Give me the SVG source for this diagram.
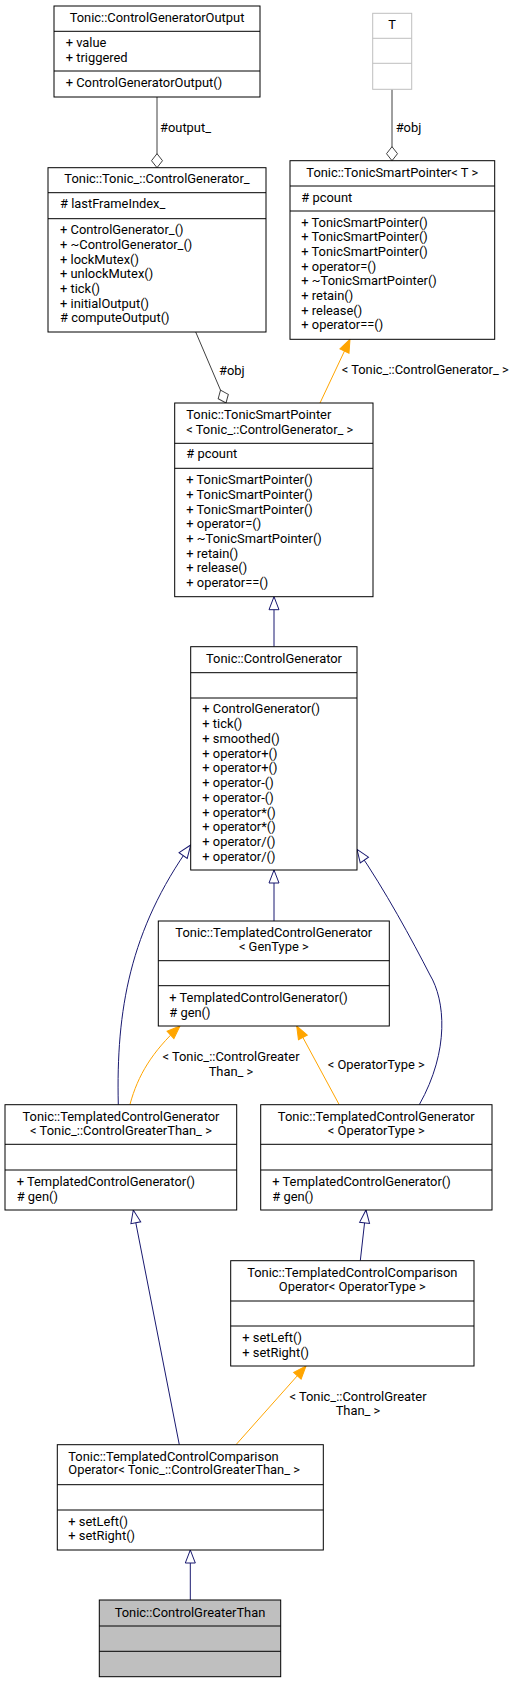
<svg xmlns="http://www.w3.org/2000/svg" width="524" height="1683" viewBox="0 0 524 1683">
<style>
.bx{fill:#fff;stroke:#000;stroke-width:1}
.sep{stroke:#000;stroke-width:1}
.t{font-family:Roboto,"Liberation Sans",sans-serif;font-size:12.9px;fill:#000}
.m{text-anchor:middle}
.inh{stroke:#191970;fill:none;stroke-width:1}
.tpl{stroke:#ffa500;fill:none;stroke-width:1}
.use{stroke:#404040;fill:none;stroke-width:1}
</style>
<defs>
<marker id="mInh" markerUnits="userSpaceOnUse" markerWidth="16" markerHeight="12" refX="13" refY="6" orient="auto" overflow="visible"><path d="M0,1 L13,6 L0,11 Z" fill="#fff" stroke="#191970"/></marker>
<marker id="mTpl" markerUnits="userSpaceOnUse" markerWidth="16" markerHeight="12" refX="13" refY="6" orient="auto" overflow="visible"><path d="M0,1 L13,6 L0,11 Z" fill="#ffa500" stroke="#ffa500"/></marker>
<marker id="mDia" markerUnits="userSpaceOnUse" markerWidth="16" markerHeight="12" refX="14" refY="6" orient="auto" overflow="visible"><path d="M0,6 L7,0.5 L14,6 L7,11.5 Z" fill="#fff" stroke="#404040"/></marker>
</defs>
<g id="connectors">
<path class="use" d="M157,97 L157,167.7" marker-end="url(#mDia)"/>
<path class="use" d="M392,89.3 L392,160.7" marker-end="url(#mDia)"/>
<path class="use" d="M195.7,332 L226,403" marker-end="url(#mDia)"/>
<path class="tpl" d="M320,403 L350,339.3" marker-end="url(#mTpl)"/>
<path class="inh" d="M274,646.7 L274,596.7" marker-end="url(#mInh)"/>
<path class="inh" d="M274,921 L274,870" marker-end="url(#mInh)"/>
<path class="inh" d="M118.3,1104.7 C116,1010 130,930 190.7,845" marker-end="url(#mInh)"/>
<path class="inh" d="M419.3,1104.7 C450,1050 445,1000 430,975 C412,940 385,890 357,849.3" marker-end="url(#mInh)"/>
<path class="tpl" d="M130,1104.3 C138,1075 152,1052 180,1026" marker-end="url(#mTpl)"/>
<path class="tpl" d="M339,1104.3 L296.7,1026" marker-end="url(#mTpl)"/>
<path class="inh" d="M179.3,1444.7 L133.3,1210" marker-end="url(#mInh)"/>
<path class="inh" d="M360.3,1260.7 L366,1210" marker-end="url(#mInh)"/>
<path class="tpl" d="M236,1444.7 L306,1366" marker-end="url(#mTpl)"/>
<path class="inh" d="M190.3,1600 L190.3,1550" marker-end="url(#mInh)"/>
<text class="t" x="160" y="131.7">#output_</text>
<text class="t" x="395.7" y="131.7">#obj</text>
<text class="t" x="219" y="375">#obj</text>
<text class="t" x="341.7" y="374.3">&lt; Tonic_::ControlGenerator_ &gt;</text>
<text class="t m" x="231" y="1060.7">&lt; Tonic_::ControlGreater</text>
<text class="t m" x="231" y="1075.7">Than_ &gt;</text>
<text class="t" x="327.7" y="1069">&lt; OperatorType &gt;</text>
<text class="t m" x="358" y="1400.7">&lt; Tonic_::ControlGreater</text>
<text class="t m" x="358" y="1415">Than_ &gt;</text>
</g>
<g id="ControlGeneratorOutput">
<rect class="bx" x="54" y="6" width="206" height="91"/>
<line class="sep" x1="54" y1="31.3" x2="260" y2="31.3"/>
<line class="sep" x1="54" y1="71" x2="260" y2="71"/>
<text class="t m" x="157" y="22">Tonic::ControlGeneratorOutput</text>
<text class="t" x="65.7" y="46.7">+ value</text>
<text class="t" x="65.7" y="62">+ triggered</text>
<text class="t" x="65.7" y="86.7">+ ControlGeneratorOutput()</text>
</g>
<g id="T">
<rect x="372.7" y="13.3" width="39" height="76" fill="#fff" stroke="#bfbfbf"/>
<line x1="372.7" y1="38.3" x2="411.7" y2="38.3" stroke="#bfbfbf"/>
<line x1="372.7" y1="63.3" x2="411.7" y2="63.3" stroke="#bfbfbf"/>
<text class="t m" x="392.2" y="29">T</text>
</g>
<g id="ControlGenerator_">
<rect class="bx" x="48" y="167.7" width="218" height="164.3"/>
<line class="sep" x1="48" y1="192.7" x2="266" y2="192.7"/>
<line class="sep" x1="48" y1="218.7" x2="266" y2="218.7"/>
<text class="t m" x="157" y="183.3">Tonic::Tonic_::ControlGenerator_</text>
<text class="t" x="60" y="208.3"># lastFrameIndex_</text>
<text class="t" x="60" y="234.3">+ ControlGenerator_()</text>
<text class="t" x="60" y="249">+ ~ControlGenerator_()</text>
<text class="t" x="60" y="263.7">+ lockMutex()</text>
<text class="t" x="60" y="278.3">+ unlockMutex()</text>
<text class="t" x="60" y="293">+ tick()</text>
<text class="t" x="60" y="307.7">+ initialOutput()</text>
<text class="t" x="60" y="322.3"># computeOutput()</text>
</g>
<g id="TonicSmartPointerT">
<rect class="bx" x="290" y="160.7" width="204.7" height="178.6"/>
<line class="sep" x1="290" y1="186" x2="494.7" y2="186"/>
<line class="sep" x1="290" y1="211" x2="494.7" y2="211"/>
<text class="t m" x="392.3" y="176.7">Tonic::TonicSmartPointer&lt; T &gt;</text>
<text class="t" x="301.3" y="201.7"># pcount</text>
<text class="t" x="301.3" y="226.7">+ TonicSmartPointer()</text>
<text class="t" x="301.3" y="241.4">+ TonicSmartPointer()</text>
<text class="t" x="301.3" y="256">+ TonicSmartPointer()</text>
<text class="t" x="301.3" y="270.7">+ operator=()</text>
<text class="t" x="301.3" y="285.4">+ ~TonicSmartPointer()</text>
<text class="t" x="301.3" y="300">+ retain()</text>
<text class="t" x="301.3" y="314.7">+ release()</text>
<text class="t" x="301.3" y="329.4">+ operator==()</text>
</g>
<g id="TonicSmartPointerCG">
<rect class="bx" x="174.7" y="403" width="198.3" height="193.7"/>
<line class="sep" x1="174.7" y1="443.3" x2="373" y2="443.3"/>
<line class="sep" x1="174.7" y1="468.3" x2="373" y2="468.3"/>
<text class="t" x="186.3" y="419.3">Tonic::TonicSmartPointer</text>
<text class="t" x="186.3" y="433.7">&lt; Tonic_::ControlGenerator_ &gt;</text>
<text class="t" x="186.3" y="458.3"># pcount</text>
<text class="t" x="186.3" y="484.3">+ TonicSmartPointer()</text>
<text class="t" x="186.3" y="498.9">+ TonicSmartPointer()</text>
<text class="t" x="186.3" y="513.6">+ TonicSmartPointer()</text>
<text class="t" x="186.3" y="528.2">+ operator=()</text>
<text class="t" x="186.3" y="542.8">+ ~TonicSmartPointer()</text>
<text class="t" x="186.3" y="557.5">+ retain()</text>
<text class="t" x="186.3" y="572.1">+ release()</text>
<text class="t" x="186.3" y="586.7">+ operator==()</text>
</g>
<g id="ControlGenerator">
<rect class="bx" x="190.7" y="646.7" width="166.3" height="223.3"/>
<line class="sep" x1="190.7" y1="672.7" x2="357" y2="672.7"/>
<line class="sep" x1="190.7" y1="698" x2="357" y2="698"/>
<text class="t m" x="274" y="662.7">Tonic::ControlGenerator</text>
<text class="t" x="202.3" y="713.3">+ ControlGenerator()</text>
<text class="t" x="202.3" y="728">+ tick()</text>
<text class="t" x="202.3" y="742.8">+ smoothed()</text>
<text class="t" x="202.3" y="757.5">+ operator+()</text>
<text class="t" x="202.3" y="772.3">+ operator+()</text>
<text class="t" x="202.3" y="787">+ operator-()</text>
<text class="t" x="202.3" y="801.7">+ operator-()</text>
<text class="t" x="202.3" y="816.5">+ operator*()</text>
<text class="t" x="202.3" y="831.2">+ operator*()</text>
<text class="t" x="202.3" y="846">+ operator/()</text>
<text class="t" x="202.3" y="860.7">+ operator/()</text>
</g>
<g id="TemplatedControlGeneratorGenType">
<rect class="bx" x="158.3" y="921" width="231" height="105"/>
<line class="sep" x1="158.3" y1="960.7" x2="389.3" y2="960.7"/>
<line class="sep" x1="158.3" y1="985.7" x2="389.3" y2="985.7"/>
<text class="t m" x="273.8" y="936.7">Tonic::TemplatedControlGenerator</text>
<text class="t m" x="273.8" y="950.7">&lt; GenType &gt;</text>
<text class="t" x="169.3" y="1001.7">+ TemplatedControlGenerator()</text>
<text class="t" x="169.3" y="1016.7"># gen()</text>
</g>
<g id="TemplatedControlGeneratorCGT">
<rect class="bx" x="5" y="1104.7" width="231.7" height="105.3"/>
<line class="sep" x1="5" y1="1144.3" x2="236.7" y2="1144.3"/>
<line class="sep" x1="5" y1="1170" x2="236.7" y2="1170"/>
<text class="t m" x="121" y="1120.7">Tonic::TemplatedControlGenerator</text>
<text class="t m" x="121" y="1134.7">&lt; Tonic_::ControlGreaterThan_ &gt;</text>
<text class="t" x="16.7" y="1185.7">+ TemplatedControlGenerator()</text>
<text class="t" x="16.7" y="1200.7"># gen()</text>
</g>
<g id="TemplatedControlGeneratorOpType">
<rect class="bx" x="260.7" y="1104.7" width="231.3" height="105.3"/>
<line class="sep" x1="260.7" y1="1144.3" x2="492" y2="1144.3"/>
<line class="sep" x1="260.7" y1="1170" x2="492" y2="1170"/>
<text class="t m" x="376.3" y="1120.7">Tonic::TemplatedControlGenerator</text>
<text class="t m" x="376.3" y="1134.7">&lt; OperatorType &gt;</text>
<text class="t" x="272.3" y="1185.7">+ TemplatedControlGenerator()</text>
<text class="t" x="272.3" y="1200.7"># gen()</text>
</g>
<g id="TemplatedControlComparisonOperatorOpType">
<rect class="bx" x="230.7" y="1260.7" width="243.3" height="105.3"/>
<line class="sep" x1="230.7" y1="1301" x2="474" y2="1301"/>
<line class="sep" x1="230.7" y1="1326" x2="474" y2="1326"/>
<text class="t m" x="352.3" y="1276.7">Tonic::TemplatedControlComparison</text>
<text class="t m" x="352.3" y="1290.7">Operator&lt; OperatorType &gt;</text>
<text class="t" x="242.3" y="1341.7">+ setLeft()</text>
<text class="t" x="242.3" y="1356.7">+ setRight()</text>
</g>
<g id="TemplatedControlComparisonOperatorCGT">
<rect class="bx" x="57.3" y="1444.7" width="266" height="105.3"/>
<line class="sep" x1="57.3" y1="1484.7" x2="323.3" y2="1484.7"/>
<line class="sep" x1="57.3" y1="1510" x2="323.3" y2="1510"/>
<text class="t" x="68.3" y="1460.7">Tonic::TemplatedControlComparison</text>
<text class="t" x="68.3" y="1474.3">Operator&lt; Tonic_::ControlGreaterThan_ &gt;</text>
<text class="t" x="68.3" y="1525.7">+ setLeft()</text>
<text class="t" x="68.3" y="1540">+ setRight()</text>
</g>
<g id="ControlGreaterThan">
<rect x="99.3" y="1600" width="181.4" height="76.7" fill="#bfbfbf" stroke="#000"/>
<line class="sep" x1="99.3" y1="1626" x2="280.7" y2="1626"/>
<line class="sep" x1="99.3" y1="1651.3" x2="280.7" y2="1651.3"/>
<text class="t m" x="190" y="1616.7">Tonic::ControlGreaterThan</text>
</g>
</svg>
